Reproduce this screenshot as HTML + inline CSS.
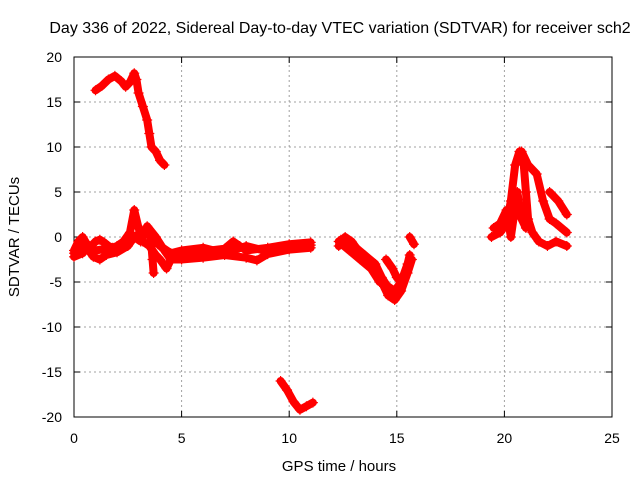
<!DOCTYPE html>
<html><head><meta charset="utf-8"><style>
body{margin:0;background:#fff}
svg{display:block;font-family:"Liberation Sans",sans-serif}
</style></head><body>
<svg id="chart" width="640" height="480">
<rect width="640" height="480" fill="#fff"/>
<text x="340" y="33" font-size="16" text-anchor="middle">Day 336 of 2022, Sidereal Day-to-day VTEC variation (SDTVAR) for receiver sch2</text>
<g id="grid"></g>
<g id="axes"></g>
<g id="marks"></g>
<text x="339" y="471" font-size="15" text-anchor="middle">GPS time / hours</text>
<text x="19" y="237" font-size="15" text-anchor="middle" transform="rotate(-90 19 237)">SDTVAR / TECUs</text>
</svg>
<script>
const xTicks=[0,5,10,15,20,25];
const yTicks=[20,15,10,5,0,-5,-10,-15,-20];
const trackTopArc=[[1.0,16.3],[1.3,16.8],[1.6,17.5],[1.9,17.9],[2.2,17.3],[2.4,16.7],[2.6,17.2],[2.8,18.2],[2.9,17.5],[3.0,16],[3.2,14.5],[3.4,13],[3.5,11.5],[3.6,10],[3.8,9.5],[4.0,8.5],[4.2,8]];
const trackBaseUpper=[[0,-1.5],[0.2,-0.5],[0.4,0],[0.6,-0.8],[0.8,-1],[1.0,-0.5],[1.2,-0.3],[1.4,-0.6],[1.6,-1.0],[1.8,-1.2],[2.0,-1.0],[2.3,-0.5],[2.6,0.5],[2.8,3],[3.0,1],[3.2,-0.5],[3.5,-1],[3.8,-2],[4.0,-2.5],[4.3,-3.5],[4.5,-2.5],[5,-2],[6,-1.6],[7,-1.3],[7.4,-0.5],[7.7,-1],[8,-1.5],[9,-1.2],[10,-0.8],[11,-0.6]];
const trackBaseMid=[[0,-1.8],[0.5,-0.8],[1,-1.5],[1.5,-1.3],[2,-1.3],[2.5,-0.3],[3,0.3],[3.5,0.3],[4,-1],[4.5,-1.8],[5,-1.5],[6,-1.2],[7,-1.8],[8,-1],[9,-1.6],[10,-1.1],[11,-0.9]];
const trackBaseLower=[[0,-2.2],[0.4,-1.8],[0.6,-1.2],[0.9,-2.2],[1.2,-2.5],[1.5,-2],[2,-1.7],[2.5,-1],[2.8,0],[3.1,-0.5],[3.4,1.2],[3.8,0],[4.2,-1.5],[4.5,-2.5],[5,-2.5],[6,-2.3],[7,-2],[8,-2.3],[8.5,-2.6],[9,-1.9],[10,-1.4],[11,-1.2]];
const trackSpike=[[3.5,0.8],[3.6,-1],[3.65,-2.5],[3.7,-4]];
const trackLow=[[9.6,-16],[9.9,-17],[10.2,-18.3],[10.5,-19.2],[10.8,-18.8],[11.1,-18.4]];
const trackDip1=[[12.3,-1],[12.6,0],[12.9,-0.5],[13.2,-1.5],[13.6,-2.5],[14,-4],[14.3,-5],[14.6,-6.5],[14.9,-7],[15.2,-6],[15.5,-4],[15.7,-2.5]];
const trackDip2=[[12.3,-0.5],[12.8,-1.5],[13.3,-2.5],[13.8,-3.5],[14.2,-5],[14.6,-5.5],[14.9,-6],[15.2,-5],[15.5,-3]];
const trackDip3=[[14.5,-2.5],[14.8,-3.5],[15.0,-4.5],[15.2,-5]];
const trackDip5=[[12.4,-0.3],[13,-1],[13.5,-2],[14,-3],[14.3,-4.5],[14.7,-6],[15,-6.5],[15.3,-5],[15.6,-2]];
const trackDip4=[[15.6,0],[15.8,-0.8]];
const trackEve1=[[19.4,0],[19.8,0.5],[20.1,1.5],[20.3,4],[20.5,8],[20.7,9.5],[20.9,8],[21.0,5],[21.1,2],[21.3,0.5],[21.6,-0.5],[22,-1],[22.4,-0.5],[22.9,-1]];
const trackEve2=[[20.8,9.5],[21.1,8],[21.5,7],[21.8,4],[22.1,2],[22.4,1.5],[22.9,0.5]];
const trackEve3=[[22.1,5],[22.5,4],[22.9,2.5]];
const trackEve4=[[19.5,1],[19.8,1.5],[20.1,3],[20.3,0],[20.6,5],[20.8,2],[21.0,1]];
const tracks=[trackTopArc,trackBaseUpper,trackBaseMid,trackBaseLower,trackSpike,trackLow,trackDip1,trackDip2,trackDip3,trackDip5,trackDip4,trackEve1,trackEve2,trackEve3,trackEve4];

const X0=74,X1=612,Y0=417,Y1=57;
const sx=v=>X0+(v-0)/(25-0)*(X1-X0);
const sy=v=>Y0-(v+20)/40*(Y0-Y1);
const NS="http://www.w3.org/2000/svg";
function mk(tag,attrs,parent){const e=document.createElementNS(NS,tag);for(const k in attrs)e.setAttribute(k,attrs[k]);parent.appendChild(e);return e;}
const grid=document.getElementById('grid'),axes=document.getElementById('axes'),marks=document.getElementById('marks');
xTicks.forEach(t=>{
  const x=sx(t);
  if(t>0&&t<25){const l=mk('line',{x1:x,y1:Y0,x2:x,y2:Y1,stroke:'#a0a0a0','stroke-dasharray':'2,3'},grid);
  
  }
  const tl=mk('text',{x:x,y:443,'font-size':14,'text-anchor':'middle'},axes);tl.textContent=t;
  
  
  mk('line',{x1:x,y1:Y0,x2:x,y2:Y0-6,stroke:'#000'},axes);
  mk('line',{x1:x,y1:Y1,x2:x,y2:Y1+6,stroke:'#000'},axes);
});
yTicks.forEach(t=>{
  const y=sy(t);
  if(t>-20&&t<20){const l=mk('line',{x1:X0,y1:y,x2:X1,y2:y,stroke:'#a0a0a0','stroke-dasharray':'2,3'},grid);
  
  }
  const tl=mk('text',{x:62,y:y+5,'font-size':14,'text-anchor':'end'},axes);tl.textContent=t;
  
  
  mk('line',{x1:X0,y1:y,x2:X0+6,y2:y,stroke:'#000'},axes);
  mk('line',{x1:X1,y1:y,x2:X1-6,y2:y,stroke:'#000'},axes);
});
const frame=mk('rect',{x:X0,y:Y1,width:X1-X0,height:Y0-Y1,fill:'none',stroke:'#000'},axes);


tracks.forEach(tr=>{
  const pl=mk('polyline',{points:tr.map(p=>sx(p[0])+','+sy(p[1])).join(' '),fill:'none',stroke:'#ff0000','stroke-width':8,'stroke-linejoin':'round','stroke-linecap':'round'},marks);
  
  
  tr.forEach(p=>{
    const x=sx(p[0]),y=sy(p[1]);
    const m=mk('path',{d:`M${x-5},${y}H${x+5}M${x},${y-5}V${y+5}`,stroke:'#ff0000','stroke-width':1.2},marks);
    
    
  });
});
</script>
</body></html>
